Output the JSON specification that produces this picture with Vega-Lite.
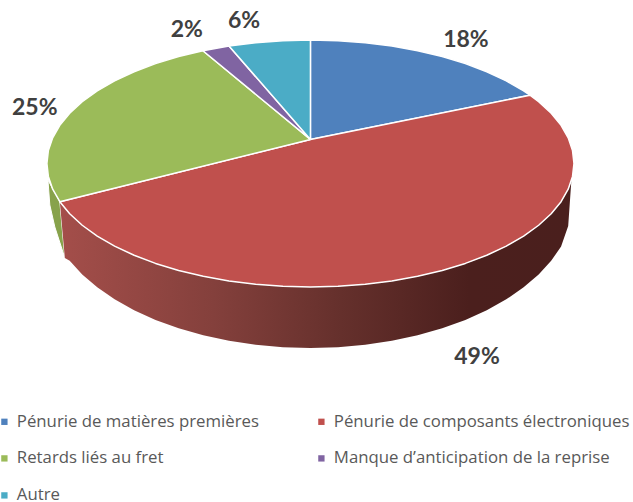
{"$schema":"https://vega.github.io/schema/vega-lite/v6.json","width":633,"height":502,"padding":0,"autosize":{"type":"fit","contains":"padding"},"background":"white","config":{"view":{"stroke":null}},
"datasets":{
"shares":[
{"slice":"Pénurie de matières premières","share":0.18,"x":0.59,"y":1.0},
{"slice":"Pénurie de composants électroniques","share":0.49,"x":0.632,"y":-1.567},
{"slice":"Retards liés au fret","share":0.25,"x":-1.046,"y":0.449},
{"slice":"Manque d’anticipation de la reprise","share":0.02,"x":-0.469,"y":1.081},
{"slice":"Autre","share":0.06,"x":-0.252,"y":1.154}],
"redSide":[
{"x":-0.951,"top":-0.309,"bottom":-0.309},{"x":-0.932,"top":-0.363,"bottom":-0.765},{"x":-0.9135,"top":-0.4067,"bottom":-0.788},{"x":-0.866,"top":-0.5,"bottom":-0.899},{"x":-0.809,"top":-0.5878,"bottom":-1.003},{"x":-0.7431,"top":-0.6691,"bottom":-1.1},{"x":-0.6691,"top":-0.7431,"bottom":-1.188},{"x":-0.5878,"top":-0.809,"bottom":-1.267},{"x":-0.5,"top":-0.866,"bottom":-1.335},{"x":-0.4067,"top":-0.9135,"bottom":-1.391},{"x":-0.309,"top":-0.9511,"bottom":-1.436},{"x":-0.2079,"top":-0.9781,"bottom":-1.468},{"x":-0.1045,"top":-0.9945,"bottom":-1.487},{"x":0,"top":-1,"bottom":-1.494},{"x":0.1045,"top":-0.9945,"bottom":-1.487},{"x":0.2079,"top":-0.9781,"bottom":-1.468},{"x":0.309,"top":-0.9511,"bottom":-1.436},{"x":0.4067,"top":-0.9135,"bottom":-1.391},{"x":0.5,"top":-0.866,"bottom":-1.335},{"x":0.5878,"top":-0.809,"bottom":-1.267},{"x":0.6691,"top":-0.7431,"bottom":-1.188},{"x":0.7431,"top":-0.6691,"bottom":-1.1},{"x":0.809,"top":-0.5878,"bottom":-1.003},{"x":0.866,"top":-0.5,"bottom":-0.899},{"x":0.9135,"top":-0.4067,"bottom":-0.788},{"x":0.9511,"top":-0.309,"bottom":-0.672},{"x":0.9781,"top":-0.2079,"bottom":-0.506},{"x":0.99,"top":-0.141,"bottom":-0.141}],
"greenSide":[
{"k":1,"x":-0.996,"y":-0.134},{"k":2,"x":-0.951,"y":-0.309},{"k":3,"x":-0.932,"y":-0.765},{"k":4,"x":-0.97,"y":-0.514},{"k":5,"x":-0.989,"y":-0.336},{"k":6,"x":-0.996,"y":-0.134}],
"outline":[
{"slice":"Pénurie de matières premières","k":0,"x":0,"y":0.195},{"slice":"Pénurie de matières premières","k":1,"x":0,"y":1},{"slice":"Pénurie de matières premières","k":2,"x":0.1045,"y":0.9945},{"slice":"Pénurie de matières premières","k":3,"x":0.2079,"y":0.9781},{"slice":"Pénurie de matières premières","k":4,"x":0.309,"y":0.9511},{"slice":"Pénurie de matières premières","k":5,"x":0.4067,"y":0.9135},{"slice":"Pénurie de matières premières","k":6,"x":0.5,"y":0.866},{"slice":"Pénurie de matières premières","k":7,"x":0.5878,"y":0.809},{"slice":"Pénurie de matières premières","k":8,"x":0.6691,"y":0.7431},{"slice":"Pénurie de matières premières","k":9,"x":0.7431,"y":0.6691},{"slice":"Pénurie de matières premières","k":10,"x":0.809,"y":0.5878},{"slice":"Pénurie de matières premières","k":11,"x":0.833,"y":0.553},{"slice":"Pénurie de matières premières","k":12,"x":0,"y":0.195},
{"slice":"Pénurie de composants électroniques","k":0,"x":0,"y":0.195},{"slice":"Pénurie de composants électroniques","k":1,"x":0.833,"y":0.553},{"slice":"Pénurie de composants électroniques","k":2,"x":0.866,"y":0.5},{"slice":"Pénurie de composants électroniques","k":3,"x":0.9135,"y":0.4067},{"slice":"Pénurie de composants électroniques","k":4,"x":0.9511,"y":0.309},{"slice":"Pénurie de composants électroniques","k":5,"x":0.9781,"y":0.2079},{"slice":"Pénurie de composants électroniques","k":6,"x":0.9945,"y":0.1045},{"slice":"Pénurie de composants électroniques","k":7,"x":1,"y":0},{"slice":"Pénurie de composants électroniques","k":8,"x":0.9945,"y":-0.1045},{"slice":"Pénurie de composants électroniques","k":9,"x":0.9781,"y":-0.2079},{"slice":"Pénurie de composants électroniques","k":10,"x":0.9511,"y":-0.309},{"slice":"Pénurie de composants électroniques","k":11,"x":0.9135,"y":-0.4067},{"slice":"Pénurie de composants électroniques","k":12,"x":0.866,"y":-0.5},{"slice":"Pénurie de composants électroniques","k":13,"x":0.809,"y":-0.5878},{"slice":"Pénurie de composants électroniques","k":14,"x":0.7431,"y":-0.6691},{"slice":"Pénurie de composants électroniques","k":15,"x":0.6691,"y":-0.7431},{"slice":"Pénurie de composants électroniques","k":16,"x":0.5878,"y":-0.809},{"slice":"Pénurie de composants électroniques","k":17,"x":0.5,"y":-0.866},{"slice":"Pénurie de composants électroniques","k":18,"x":0.4067,"y":-0.9135},{"slice":"Pénurie de composants électroniques","k":19,"x":0.309,"y":-0.9511},{"slice":"Pénurie de composants électroniques","k":20,"x":0.2079,"y":-0.9781},{"slice":"Pénurie de composants électroniques","k":21,"x":0.1045,"y":-0.9945},{"slice":"Pénurie de composants électroniques","k":22,"x":0,"y":-1},{"slice":"Pénurie de composants électroniques","k":23,"x":-0.1045,"y":-0.9945},{"slice":"Pénurie de composants électroniques","k":24,"x":-0.2079,"y":-0.9781},{"slice":"Pénurie de composants électroniques","k":25,"x":-0.309,"y":-0.9511},{"slice":"Pénurie de composants électroniques","k":26,"x":-0.4067,"y":-0.9135},{"slice":"Pénurie de composants électroniques","k":27,"x":-0.5,"y":-0.866},{"slice":"Pénurie de composants électroniques","k":28,"x":-0.5878,"y":-0.809},{"slice":"Pénurie de composants électroniques","k":29,"x":-0.6691,"y":-0.7431},{"slice":"Pénurie de composants électroniques","k":30,"x":-0.7431,"y":-0.6691},{"slice":"Pénurie de composants électroniques","k":31,"x":-0.809,"y":-0.5878},{"slice":"Pénurie de composants électroniques","k":32,"x":-0.866,"y":-0.5},{"slice":"Pénurie de composants électroniques","k":33,"x":-0.9135,"y":-0.4067},{"slice":"Pénurie de composants électroniques","k":34,"x":-0.951,"y":-0.309},{"slice":"Pénurie de composants électroniques","k":35,"x":0,"y":0.195},
{"slice":"Retards liés au fret","k":0,"x":0,"y":0.195},{"slice":"Retards liés au fret","k":1,"x":-0.951,"y":-0.309},{"slice":"Retards liés au fret","k":2,"x":-0.9781,"y":-0.2079},{"slice":"Retards liés au fret","k":3,"x":-0.9945,"y":-0.1045},{"slice":"Retards liés au fret","k":4,"x":-1,"y":0},{"slice":"Retards liés au fret","k":5,"x":-0.9945,"y":0.1045},{"slice":"Retards liés au fret","k":6,"x":-0.9781,"y":0.2079},{"slice":"Retards liés au fret","k":7,"x":-0.9511,"y":0.309},{"slice":"Retards liés au fret","k":8,"x":-0.9135,"y":0.4067},{"slice":"Retards liés au fret","k":9,"x":-0.866,"y":0.5},{"slice":"Retards liés au fret","k":10,"x":-0.809,"y":0.5878},{"slice":"Retards liés au fret","k":11,"x":-0.7431,"y":0.6691},{"slice":"Retards liés au fret","k":12,"x":-0.6691,"y":0.7431},{"slice":"Retards liés au fret","k":13,"x":-0.5878,"y":0.809},{"slice":"Retards liés au fret","k":14,"x":-0.5,"y":0.866},{"slice":"Retards liés au fret","k":15,"x":-0.408,"y":0.913},{"slice":"Retards liés au fret","k":16,"x":0,"y":0.195},
{"slice":"Manque d’anticipation de la reprise","k":0,"x":0,"y":0.195},{"slice":"Manque d’anticipation de la reprise","k":1,"x":-0.408,"y":0.913},{"slice":"Manque d’anticipation de la reprise","k":2,"x":-0.309,"y":0.951},{"slice":"Manque d’anticipation de la reprise","k":3,"x":0,"y":0.195},
{"slice":"Autre","k":0,"x":0,"y":0.195},{"slice":"Autre","k":1,"x":-0.309,"y":0.951},{"slice":"Autre","k":2,"x":-0.2079,"y":0.9781},{"slice":"Autre","k":3,"x":-0.1045,"y":0.9945},{"slice":"Autre","k":4,"x":0,"y":1},{"slice":"Autre","k":5,"x":0,"y":0.195}]
},
"layer":[
{"data":{"name":"greenSide"},"mark":{"type":"line","fill":"#87a24b","stroke":"white","strokeWidth":1},"encoding":{"x":{"field":"x","type":"quantitative","scale":{"domain":[-1.178,1.224],"nice":false,"zero":false},"axis":null},"y":{"field":"y","type":"quantitative","scale":{"domain":[-2.741,1.324],"nice":false,"zero":false},"axis":null},"order":{"field":"k"}}},
{"data":{"name":"redSide"},"mark":{"type":"area","color":{"gradient":"linear","x1":0,"x2":1,"y1":0,"y2":0,"stops":[{"offset":0,"color":"#a44e4a"},{"offset":0.3,"color":"#84403c"},{"offset":0.55,"color":"#65302c"},{"offset":0.8,"color":"#4b1f1d"},{"offset":1,"color":"#4a1f1d"}]}},"encoding":{"x":{"field":"x","type":"quantitative"},"y":{"field":"top","type":"quantitative"},"y2":{"field":"bottom"}}},
{"data":{"name":"outline"},"mark":{"type":"line","stroke":"white","strokeWidth":1.5,"strokeJoin":"round"},"encoding":{"x":{"field":"x","type":"quantitative"},"y":{"field":"y","type":"quantitative"},"order":{"field":"k"},"fill":{"field":"slice","type":"nominal","scale":{"domain":["Pénurie de matières premières","Pénurie de composants électroniques","Retards liés au fret","Manque d’anticipation de la reprise","Autre"],"range":["#4f81bd","#c0504d","#9bbb59","#8064a2","#4bacc6"]},"legend":{"title":null,"orient":"none","direction":"horizontal","legendX":-4,"legendY":413,"columns":2,"symbolType":"square","symbolSize":40,"symbolStrokeWidth":0,"labelFont":"Open Sans","labelFontSize":16.8,"labelColor":"#595959","labelLimit":340,"rowPadding":19,"columnPadding":54,"gridAlign":"each"}}}},
{"data":{"name":"shares"},"mark":{"type":"text","font":"Lato","fontWeight":"bold","fontSize":23,"color":"#404040"},"encoding":{"x":{"field":"x","type":"quantitative"},"y":{"field":"y","type":"quantitative"},"text":{"field":"share","type":"quantitative","format":".0%"}}}
]}
